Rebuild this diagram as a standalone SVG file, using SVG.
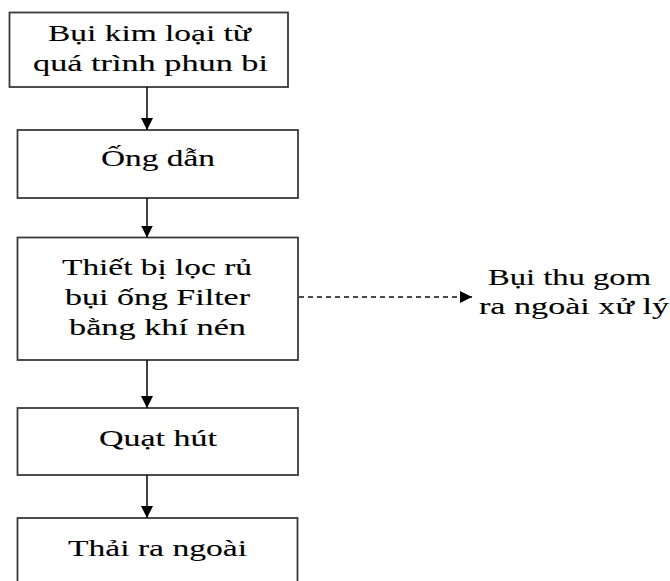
<svg xmlns="http://www.w3.org/2000/svg" width="670" height="581" viewBox="0 0 670 581">
<style>
.box{fill:#fff;stroke:#3a3a3a;stroke-width:1.8}
.t{font-family:"Liberation Serif","Times New Roman",serif;font-size:24px;fill:#000;stroke:#000;stroke-width:0.12;text-anchor:start}
.ln{stroke:#111;stroke-width:1.6;fill:none}
.dash{stroke:#111;stroke-width:1.3;fill:none;stroke-dasharray:5 4}
</style>
<defs>
<marker id="ah" viewBox="0 0 12 12" refX="12" refY="6" markerWidth="12" markerHeight="12" markerUnits="userSpaceOnUse" orient="auto">
<path d="M0,0 L12,6 L0,12 Z" fill="#000"/>
</marker>
</defs>
<rect width="670" height="581" fill="#fff"/>
<g id="n1">
<rect class="box" x="9.5" y="12.5" width="278.5" height="74.5"/>
<text class="t" x="48" y="41" textLength="203" lengthAdjust="spacingAndGlyphs">Bụi kim loại từ</text>
<text class="t" x="33" y="71" textLength="235" lengthAdjust="spacingAndGlyphs">quá trình phun bi</text>
</g>
<g id="n2">
<rect class="box" x="17.5" y="130" width="280.5" height="68"/>
<text class="t" x="101" y="166" textLength="114" lengthAdjust="spacingAndGlyphs">Ống dẫn</text>
</g>
<g id="n3">
<rect class="box" x="17.5" y="237.5" width="280.5" height="122.5"/>
<text class="t" x="62" y="275" textLength="190" lengthAdjust="spacingAndGlyphs">Thiết bị lọc rủ</text>
<text class="t" x="65" y="305" textLength="185" lengthAdjust="spacingAndGlyphs">bụi ống Filter</text>
<text class="t" x="69" y="335" textLength="177" lengthAdjust="spacingAndGlyphs">bằng khí nén</text>
</g>
<g id="n4">
<rect class="box" x="17.5" y="408" width="280.5" height="67"/>
<text class="t" x="99" y="446" textLength="118" lengthAdjust="spacingAndGlyphs">Quạt hút</text>
</g>
<g id="n5">
<rect class="box" x="17.5" y="518" width="280" height="80"/>
<text class="t" x="68" y="556" textLength="179" lengthAdjust="spacingAndGlyphs">Thải ra ngoài</text>
</g>
<g id="n6">
<text class="t" x="488" y="285" textLength="163" lengthAdjust="spacingAndGlyphs">Bụi thu gom</text>
<text class="t" x="479" y="314" textLength="190" lengthAdjust="spacingAndGlyphs">ra ngoài xử lý</text>
</g>
<g id="connectors">
<line class="ln" x1="147" y1="87" x2="147" y2="130" marker-end="url(#ah)"/>
<line class="ln" x1="147" y1="198" x2="147" y2="237.5" marker-end="url(#ah)"/>
<line class="ln" x1="147" y1="360" x2="147" y2="408" marker-end="url(#ah)"/>
<line class="ln" x1="147" y1="475" x2="147" y2="518" marker-end="url(#ah)"/>
<line class="dash" x1="299" y1="297" x2="472" y2="297" marker-end="url(#ah)"/>
</g>
</svg>
